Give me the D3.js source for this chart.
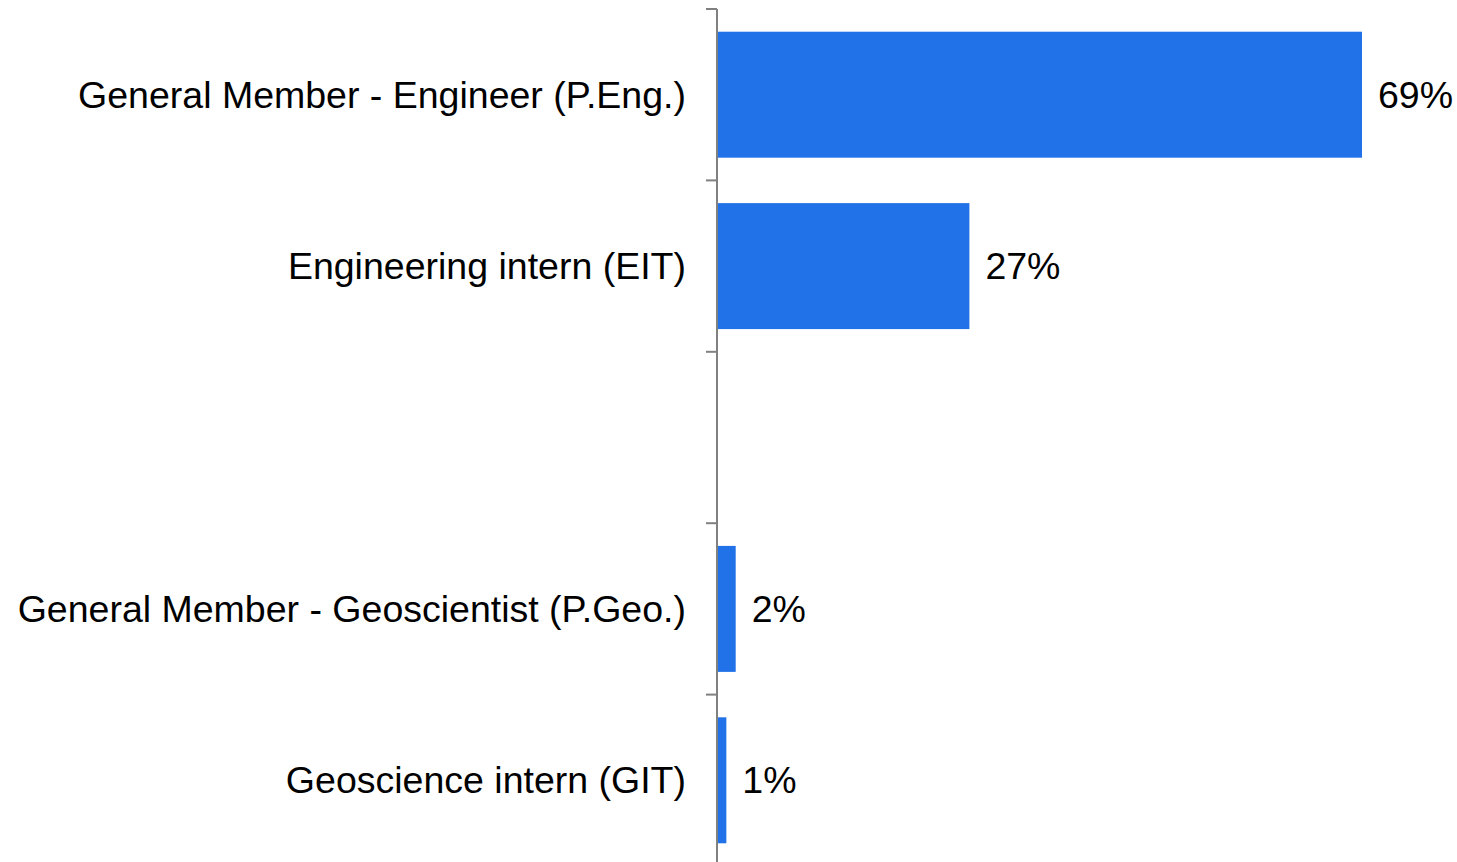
<!DOCTYPE html>
<meta charset="utf-8">
<style>
  body{ margin:0; background:#fff; }
  text{ font-family: "Liberation Sans", Arial, sans-serif; fill:#000; }
  .axis path, .axis line{ stroke:#808080; stroke-width:2; }
</style>
<body>
<div id="chart"></div>
<script src="https://d3js.org/d3.v7.min.js"></script>
<script>
var categories = ["General Member - Engineer (P.Eng.)", "Engineering intern (EIT)", "", "General Member - Geoscientist (P.Geo.)", "Geoscience intern (GIT)"];
var values = [69, 27, null, 2, 1];
var valueLabels = ["69%", "27%", "", "2%", "1%"];

var width = 1457, height = 862;
var x0 = 717;

var svg = d3.select('#chart').append('svg').attr('width', width).attr('height', height);

var x = d3.scaleLinear().domain([0, 69]).range([x0, 1362]);
var y = d3.scaleBand().domain(d3.range(categories.length)).range([9, 866]).paddingInner(0.265).paddingOuter(0.1325);

// ticks sit on band boundaries
var step = y.step();
var tickY = d3.range(categories.length + 1).map(function(i){ return 9 + i * step; });

var data = categories.map(function(c, i){ return {cat:c, v:values[i], lab:valueLabels[i], i:i}; });

svg.selectAll('rect.bar').data(data.filter(function(d){ return d.v != null; }))
  .enter().append('rect').attr('class','bar')
  .attr('x', x(0))
  .attr('y', function(d){ return y(d.i); })
  .attr('width', function(d){ return x(d.v) - x(0); })
  .attr('height', y.bandwidth())
  .attr('fill', '#2172e8');

var axis = svg.append('g').attr('class','axis');
axis.append('line').attr('x1', x0).attr('x2', x0).attr('y1', 9).attr('y2', height);
axis.selectAll('line.tick').data(tickY).enter().append('line').attr('class','tick')
  .attr('x1', x0 - 11).attr('x2', x0).attr('y1', function(d){ return d; }).attr('y2', function(d){ return d; });

svg.selectAll('text.cat').data(data).enter().append('text').attr('class','cat')
  .attr('x', 686)
  .attr('y', function(d){ return y(d.i) + y.bandwidth() / 2; })
  .attr('dy', '0.35em')
  .attr('text-anchor', 'end')
  .style('font-size', '37.5px')
  .text(function(d){ return d.cat; });

svg.selectAll('text.val').data(data.filter(function(d){ return d.v != null; })).enter().append('text').attr('class','val')
  .attr('x', function(d){ return x(d.v) + 16; })
  .attr('y', function(d){ return y(d.i) + y.bandwidth() / 2; })
  .attr('dy', '0.35em')
  .style('font-size', '37.5px')
  .text(function(d){ return d.lab; });
</script>
</body>
